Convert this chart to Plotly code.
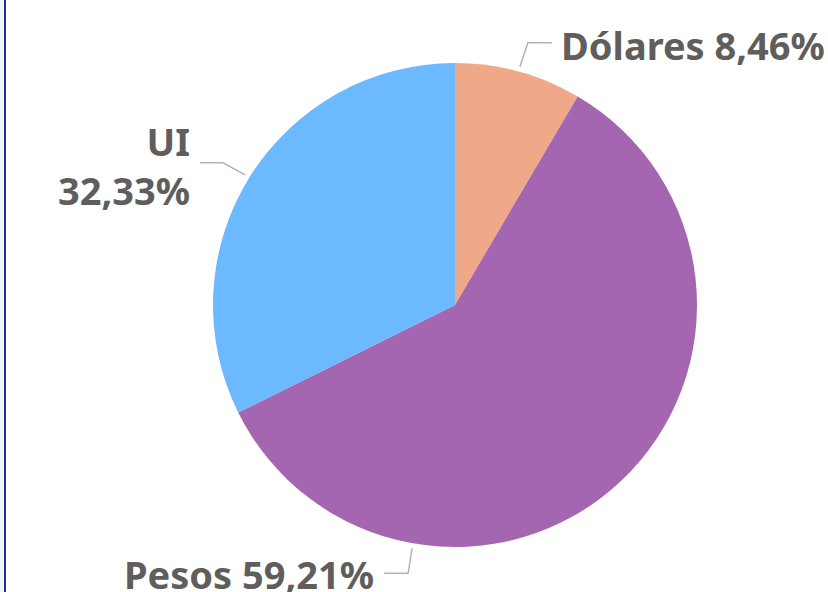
import math
import plotly.graph_objects as go

categories = ["Dólares", "Pesos", "UI"]
values = [8.46, 59.21, 32.33]
label_texts = ["Dólares 8,46%", "Pesos 59,21%", "UI<br>32,33%"]
colors = ["#F0A988", "#A566B1", "#6DB9FF"]

W, H = 828, 592
CX, CY, R = 455, 305, 242

fig = go.Figure(go.Pie(
    labels=categories, values=values, sort=False, direction="clockwise",
    rotation=0, textinfo="none", hoverinfo="label+percent",
    marker=dict(colors=colors, line=dict(width=0)),
    domain=dict(x=[(CX - R) / W, (CX + R) / W], y=[1 - (CY + R) / H, 1 - (CY - R) / H]),
    showlegend=False,
))

def px(x, y):
    return x / W, 1 - y / H

# leader-line geometry (angle in degrees clockwise from top; style choices)
label_angles = []
cum = 0
tot = sum(values)
for v in values:
    label_angles.append((cum + v / 2) / tot * 360)
    cum += v
label_angles[1] = 190  # Pesos label placed at bottom

elbow = [(8, -24, 24), (-4, 25, -24), (-22, -12, -23)]  # (dx, dy, horizontal length)
text_dy = [2, 1, 3]
font = dict(family="Noto Sans", size=38, color="#605E5C", weight="bold")
shapes = []
annotations = []
for i, ang in enumerate(label_angles):
    a = math.radians(ang)
    x0 = CX + (R + 5) * math.sin(a)
    y0 = CY - (R + 5) * math.cos(a)
    dx, dy, hl = elbow[i]
    x1, y1 = x0 + dx, y0 + dy
    x2 = x1 + hl
    path = "M {} {} L {} {} L {} {}".format(*px(x0, y0), *px(x1, y1), *px(x2, y1))
    shapes.append(dict(type="path", xref="paper", yref="paper", path=path,
                       line=dict(color="#B3B3B3", width=1.5)))
    right = hl > 0
    ax, ay = px(x2 + (8 if right else -9), y1 + text_dy[i])
    annotations.append(dict(
        x=ax, y=ay, xref="paper", yref="paper", text=label_texts[i],
        showarrow=False, xanchor="left" if right else "right", yanchor="middle",
        align="left" if right else "right", font=font, borderpad=0,
    ))

# left frame
shapes.append(dict(type="rect", xref="paper", yref="paper", x0=0, x1=4 / W, y0=0, y1=1,
                   fillcolor="#F4F4F4", line=dict(width=0), layer="below"))
shapes.append(dict(type="line", xref="paper", yref="paper", x0=5 / W, x1=5 / W, y0=0, y1=1,
                   line=dict(color="#1F2AA8", width=2)))

fig.update_layout(
    width=W, height=H, margin=dict(l=0, r=0, t=0, b=0),
    paper_bgcolor="white", plot_bgcolor="white",
    shapes=shapes, annotations=annotations,
)
fig.write_html("out.html", config={"displayModeBar": False})

# remove the browser's default page margin so the figure fills the window
with open("out.html", encoding="utf-8") as f:
    html = f.read()
html = html.replace("<head>", "<head><style>html,body{margin:0;padding:0;overflow:hidden;}</style>", 1)
with open("out.html", "w", encoding="utf-8") as f:
    f.write(html)
